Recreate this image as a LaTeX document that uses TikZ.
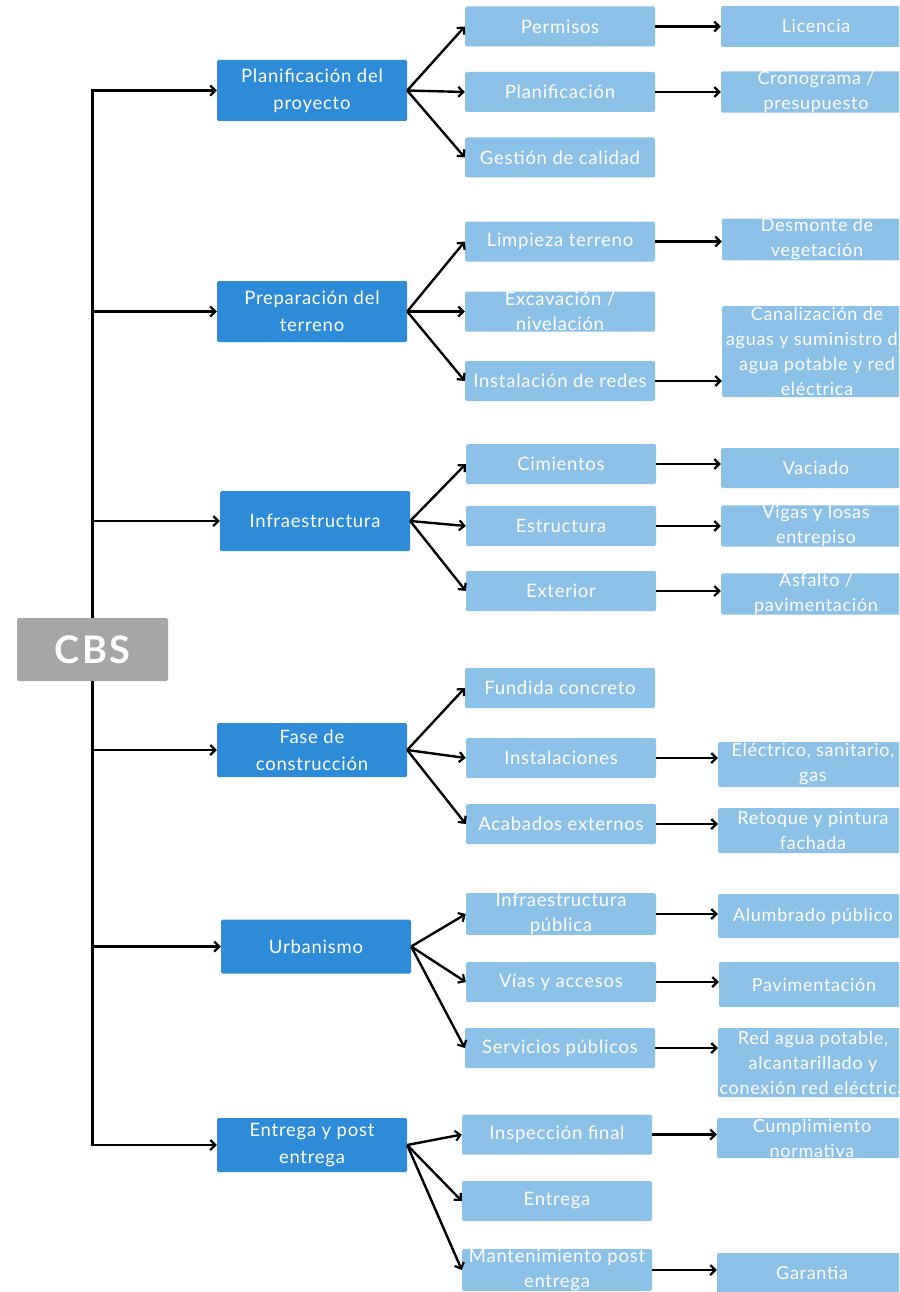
\documentclass[tikz,border=0pt]{standalone}
\usepackage{fontspec}
\setmainfont{Lato}[LetterSpace=4]
\newfontfamily\cbsfont{Lato}[LetterSpace=7]
\usetikzlibrary{arrows.meta}
\definecolor{dblue}{HTML}{2D8BD7}
\definecolor{lblue}{HTML}{8DC2E8}
\definecolor{cgray}{HTML}{A6A6A6}
\tikzset{
  lone/.style={rectangle, rounded corners=1.5pt, fill=dblue, text=white, minimum width=190pt, inner sep=0pt, align=center, font=\fontsize{18.5}{27}\selectfont},
  ltwo/.style={rectangle, rounded corners=1.5pt, fill=lblue, text=white, minimum width=190pt, minimum height=40pt, inner sep=0pt, align=center, font=\fontsize{18.5}{25}\selectfont},
  lthree/.style={ltwo, font=\fontsize{18}{25}\selectfont},
  root/.style={rectangle, rounded corners=1.5pt, fill=cgray, text=white, minimum width=151pt, minimum height=63pt, inner sep=0pt, font=\cbsfont\bfseries\fontsize{38}{40}\selectfont},
  arr/.style={line width=2.4pt, -{Straight Barb[length=5pt,width=10pt,line width=2.2pt]}},
}
\begin{document}
\begin{tikzpicture}[x=1pt,y=-1pt]
\useasboundingbox (0,0) rectangle (899,1292);
\fill[white] (0,0) rectangle (899,1292);
\clip (0,0) rectangle (899,1292);
% root
\node[root] (cbs) at (92.5,649.5) {CBS};
% level 1
\node[lone, minimum height=61pt] (p1) at (312,90.5) {Planificación del\\proyecto};
\node[lone, minimum height=61pt] (p2) at (312,311.5) {Preparación del\\terreno};
\node[lone, minimum height=60pt] (p3) at (315,521) {Infraestructura};
\node[lone, minimum height=54pt] (p4) at (312,750) {Fase de\\construcción};
\node[lone, minimum height=54pt] (p5) at (316,946.5) {Urbanismo};
\node[lone, minimum height=54pt] (p6) at (312,1145) {Entrega y post\\entrega};
% level 2
\node[ltwo] (a1) at (560,26.5) {Permisos};
\node[ltwo] (a2) at (560,92) {Planificación};
\node[ltwo] (a3) at (560,157.5) {Gestión de calidad};
\node[ltwo] (a4) at (560,241.5) {Limpieza terreno};
\node[ltwo] (a5) at (560,311.5) {Excavación /\\nivelación};
\node[ltwo] (a6) at (560,381) {Instalación de redes};
\node[ltwo] (a7) at (561,464) {Cimientos};
\node[ltwo] (a8) at (561,526) {Estructura};
\node[ltwo] (a9) at (561,591) {Exterior};
\node[ltwo] (a10) at (560,688) {Fundida concreto};
\node[ltwo] (a11) at (561,758) {Instalaciones};
\node[ltwo] (a12) at (561,824) {Acabados externos};
\node[ltwo] (a13) at (561,914) {Infraestructura\\pública};
\node[ltwo] (a14) at (561,982) {Vías y accesos};
\node[ltwo] (a15) at (560,1048) {Servicios públicos};
\node[ltwo] (a16) at (557,1134.5) {Inspección final};
\node[ltwo] (a17) at (557,1201) {Entrega};
\node[ltwo] (a18) at (557,1270) {Mantenimiento post\\entrega};
% level 3
\node[lthree, minimum height=41pt] (b1) at (816,26.5) {Licencia};
\node[lthree] (b2) at (816,92) {Cronograma /\\presupuesto};
\node[lthree, minimum height=41pt] (b4) at (817,239.5) {Desmonte de\\vegetación};
\node[lthree, minimum height=91pt] (b6) at (817,351.5) {Canalización de\\aguas y suministro de\\agua potable y red\\eléctrica};
\node[lthree] (b7) at (816,468) {Vaciado};
\node[lthree] (b8) at (816,526) {Vigas y losas\\entrepiso};
\node[lthree] (b9) at (816,594) {Asfalto /\\pavimentación};
\node[lthree, minimum height=45pt] (b11) at (813,764.5) {Eléctrico, sanitario,\\gas};
\node[lthree, minimum height=45pt] (b12) at (813,830.5) {Retoque y pintura\\fachada};
\node[lthree, minimum height=44pt] (b13) at (813,916) {Alumbrado público};
\node[lthree, minimum height=45pt] (b14) at (814,984.5) {Pavimentación};
\node[lthree, minimum height=69pt] (b15) at (813,1062.5) {Red agua potable,\\alcantarillado y\\conexión red eléctrica};
\node[lthree] (b16) at (812,1138) {Cumplimiento\\normativa};
\node[lthree] (b18) at (812,1273) {Garantia};
% trunk
\foreach \p in {p1,p2,p3,p4,p5,p6} \draw[arr] (cbs) |- (\p);
% level1 -> level2
\foreach \s/\t in {p1/a1,p1/a2,p1/a3,p2/a4,p2/a5,p2/a6,p3/a7,p3/a8,p3/a9,p4/a10,p4/a11,p4/a12,p5/a13,p5/a14,p5/a15,p6/a16,p6/a17,p6/a18}
  \draw[arr] (\s.east) -- (\t.west);
% level2 -> level3
\foreach \s/\t in {a1/b1,a2/b2,a4/b4,a6/b6,a7/b7,a8/b8,a9/b9,a11/b11,a12/b12,a13/b13,a14/b14,a15/b15,a16/b16,a18/b18}
  \draw[arr] (\s.east) -- (\s.east -| \t.west);
\end{tikzpicture}
\end{document}
